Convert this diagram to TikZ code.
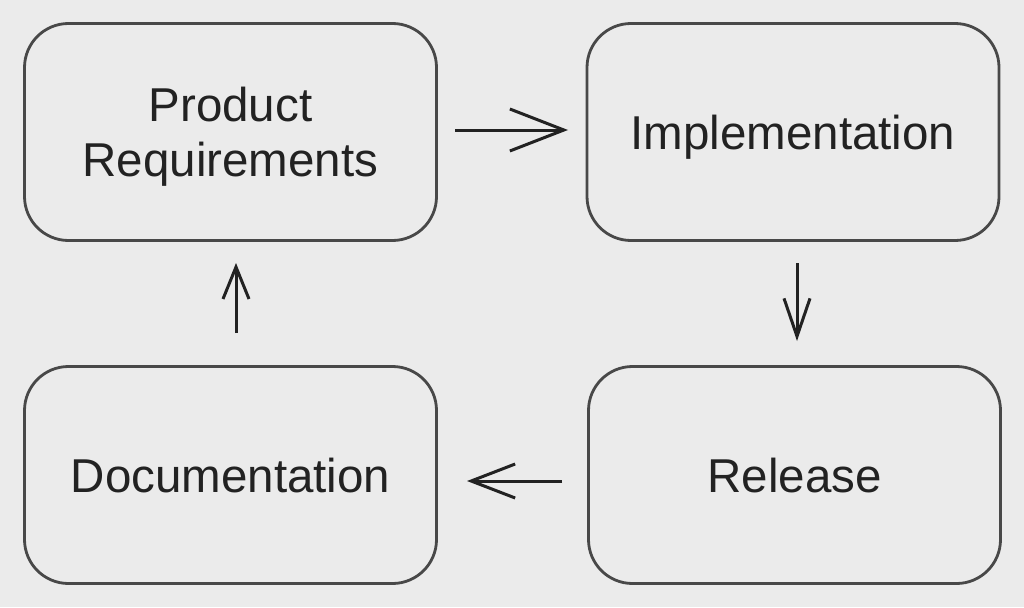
\documentclass[tikz,border=0pt]{standalone}
\usepackage{fontspec}
\setmainfont{Liberation Sans}
\usetikzlibrary{arrows.meta}
\definecolor{bg}{HTML}{EBEBEB}
\definecolor{boxline}{HTML}{484848}
\definecolor{ink}{HTML}{222222}
\begin{document}
\begin{tikzpicture}[x=1pt,y=-1pt,
  stage/.style={draw=boxline, line width=2.8pt, rounded corners=44pt, fill=bg,
    minimum width=412pt, minimum height=217pt, inner sep=0pt, text=ink,
    text depth=0pt, align=center, font=\fontsize{47.5}{55}\selectfont},
  flow/.style={draw=ink, line width=3pt}]
\fill[bg] (0,0) rectangle (1024,607);
\useasboundingbox (0,0) rectangle (1024,607);
\node[stage] (req) at (230.5,132) {Product\\Requirements};
\node[stage] (impl) at (793,132) {Implementation};
\node[stage] (doc) at (230.5,475) {Documentation};
\node[stage] (rel) at (794.5,475) {Release};
\coordinate (a1) at (455,130); \coordinate (a2) at (568,130);
\coordinate (b1) at (797,263); \coordinate (b2) at (797,341);
\coordinate (c1) at (562,481); \coordinate (c2) at (467,481);
\coordinate (d1) at (236,333); \coordinate (d2) at (236,263);
\draw[flow, -{Straight Barb[length=54pt,width=42pt,line width=3pt]}] (a1) -- (a2);
\draw[flow, -{Straight Barb[length=38pt,width=26pt,line width=3pt]}] (b1) -- (b2);
\draw[flow, -{Straight Barb[length=44pt,width=34pt,line width=3pt]}] (c1) -- (c2);
\draw[flow, -{Straight Barb[length=32pt,width=26pt,line width=3pt]}] (d1) -- (d2);
\end{tikzpicture}
\end{document}
